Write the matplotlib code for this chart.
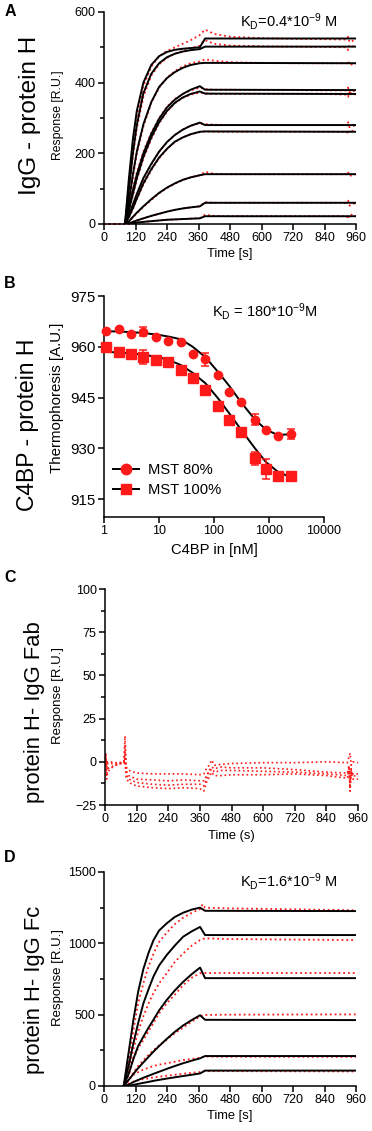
import matplotlib
matplotlib.use("Agg")
import matplotlib.pyplot as plt
from matplotlib.lines import Line2D
from matplotlib.ticker import MultipleLocator, FixedLocator, NullLocator

plt.rcParams['font.family'] = ['Liberation Sans', 'DejaVu Sans']
plt.rcParams['mathtext.fontset'] = 'custom'
plt.rcParams['mathtext.rm'] = 'Liberation Sans'
plt.rcParams['mathtext.it'] = 'Liberation Sans'

RED = '#ff1a1a'

# ---------------- Panel A: IgG - protein H (SPR) ----------------
A_T_FIT = [80, 95, 110, 125, 150, 180, 210, 240, 270, 300, 330, 365, 385, 960]
A_FIT = [
    [0, 130, 240, 320, 400, 450, 475, 487, 493, 496, 498, 500, 525, 525],
    [0, 100, 200, 280, 370, 425, 455, 472, 482, 488, 492, 495, 502, 502],
    [0, 65, 140, 205, 282, 345, 388, 413, 430, 442, 450, 455, 456, 455],
    [0, 45, 95, 140, 200, 255, 298, 330, 352, 368, 380, 390, 380, 379],
    [0, 40, 85, 130, 190, 245, 288, 320, 343, 358, 368, 375, 369, 368],
    [0, 25, 55, 85, 130, 170, 205, 232, 252, 267, 278, 287, 280, 280],
    [0, 20, 45, 72, 115, 155, 188, 213, 233, 245, 254, 261, 262, 261],
    [0, 8, 20, 32, 50, 70, 88, 103, 115, 125, 132, 138, 141, 141],
    [0, 2, 6, 10, 16, 23, 29, 35, 40, 44, 47, 50, 60, 60],
    [0, 0, 2, 4, 6, 8, 10, 12, 13, 14, 15, 16, 22, 22],
]
A_T_DATA = [0, 80, 95, 110, 125, 150, 180, 210, 240, 270, 300, 330, 365, 385, 420, 480,
            600, 720, 840, 925, 930, 935, 960]
A_DATA = [
    [0, 0, 120, 225, 305, 390, 445, 475, 490, 500, 510, 520, 535, 550, 538, 530, 526, 524, 523, 522, 530, 515, 522],
    [0, 0, 95, 190, 270, 360, 420, 452, 470, 482, 490, 497, 505, 520, 510, 505, 503, 502, 501, 500, 492, 506, 500],
    [0, 0, 60, 132, 198, 276, 342, 386, 414, 433, 446, 455, 460, 466, 462, 458, 456, 455, 455, 455, 462, 450, 455],
    [0, 0, 50, 100, 145, 205, 258, 300, 332, 354, 368, 378, 386, 382, 380, 380, 379, 379, 378, 378, 386, 372, 379],
    [0, 0, 35, 80, 125, 185, 240, 285, 318, 342, 357, 366, 372, 370, 368, 368, 368, 368, 368, 366, 360, 372, 366],
    [0, 0, 22, 52, 82, 127, 168, 204, 232, 252, 267, 278, 285, 283, 281, 280, 280, 280, 280, 280, 288, 274, 280],
    [0, 0, 18, 42, 70, 112, 152, 186, 212, 232, 245, 254, 260, 262, 261, 261, 261, 261, 261, 261, 254, 266, 261],
    [0, 0, 7, 18, 30, 48, 68, 87, 102, 114, 124, 132, 138, 148, 142, 141, 141, 141, 141, 141, 148, 136, 141],
    [0, 0, 2, 6, 10, 16, 23, 29, 35, 40, 44, 47, 50, 62, 60, 60, 60, 60, 60, 60, 66, 52, 60],
    [0, 0, 0, 2, 4, 6, 8, 10, 12, 13, 14, 15, 17, 26, 23, 22, 22, 22, 22, 22, 14, 28, 22],
]

# ---------------- Panel B: C4BP - protein H (MST) ----------------
B_CONC = [1.1, 1.9, 3.1, 5.2, 8.7, 14.8, 24.8, 41, 69.7, 118, 190, 314, 555, 871, 1442, 2500]
B_MST80 = [964.8, 965.3, 963.8, 964.5, 962.8, 961.7, 961.4, 957.9, 956.3, 951.7, 946.7, 943.8, 938.5, 935.4, 933.7, 934.1]
B_MST80_ERR = [0.3, 0.3, 0.3, 1.3, 0.3, 0.3, 0.3, 0.3, 2.0, 0.3, 0.3, 0.3, 1.5, 0.3, 0.3, 1.5]
B_MST100 = [959.8, 958.4, 958.0, 956.9, 956.1, 955.6, 953.1, 950.9, 947.2, 942.5, 938.3, 934.9, 927.0, 923.9, 921.8, 921.8]
B_MST100_ERR = [0.3, 0.5, 0.3, 2.0, 0.3, 0.3, 0.3, 0.3, 0.3, 0.3, 0.3, 0.3, 1.8, 3.0, 0.3, 1.2]
B_FIT_X = [1, 2, 5, 10, 15, 25, 41, 70, 118, 190, 314, 555, 871, 1442, 2500]
B_FIT80 = [964.6, 964.5, 964.1, 963.5, 963.0, 962.2, 960.0, 956.9, 952.6, 948.4, 943.5, 938.5, 935.6, 933.9, 934.2]
B_FIT100 = [958.5, 958.3, 957.7, 956.9, 956.1, 954.6, 952.3, 949.2, 944.8, 940.3, 935.4, 930.0, 926.0, 923.1, 921.4]

# ---------------- Panel C: protein H - IgG Fab ----------------
C_T = [0, 3, 6, 10, 20, 40, 60, 72, 76, 80, 90, 120, 180, 240, 300, 360, 375, 385, 395, 405,
       415, 440, 480, 600, 720, 840, 920, 926, 930, 934, 940, 960]
C_DATA = [
    [0, 5, -3, 0, 0, -0.5, -0.5, 0, 15, -3, -5, -6.5, -7, -7, -7, -7.5, -7, -4, -2, 1,
     -2, -1.5, -1, -0.5, -0.5, 0, -0.5, 3, 5, -2, 0, -0.5],
    [-2, 2, -8, -1, -1, -1, -0.5, 0, 10, -5, -8, -10, -10.5, -11, -10.5, -11, -11, -8, -5, -3,
     -4, -3, -3.5, -3.5, -4.5, -6, -6.5, -2, -12, -5, -7, -7],
    [-1, 4, -5, -4, -3, -2, -1, -0.5, 6, -7, -10, -12, -13, -13.5, -13, -13, -14, -10, -6, -4,
     -6, -5, -5, -5.5, -6, -7, -8, -5, -15, -4, -8, -8.5],
    [-3, 0, -10, -6, -4, -2, -1, -1, 3, -9, -12, -14, -15, -15.5, -15, -15.5, -17, -12, -9, -6,
     -8, -8, -7.5, -7.5, -7, -8, -9.5, -4, -17, -6, -10, -10],
]

# ---------------- Panel D: protein H - IgG Fc ----------------
D_T = [75, 95, 112, 130, 150, 170, 188, 210, 239, 270, 302, 335, 366, 385, 960]
D_FIT = [
    [0, 250, 463, 660, 820, 935, 1020, 1090, 1140, 1185, 1215, 1237, 1250, 1228, 1226],
    [0, 150, 300, 440, 579, 680, 766, 845, 918, 985, 1047, 1085, 1115, 1058, 1058],
    [0, 90, 190, 280, 346, 410, 463, 530, 603, 670, 731, 785, 830, 756, 756],
    [0, 45, 85, 125, 165, 205, 240, 280, 330, 380, 425, 463, 496, 464, 462],
    [0, 10, 28, 42, 58, 72, 85, 100, 120, 140, 160, 178, 194, 210, 210],
    [0, 0, 8, 15, 22, 29, 36, 43, 52, 61, 70, 79, 88, 108, 108],
]
D_T_DATA = [75, 95, 112, 130, 150, 170, 188, 210, 239, 270, 302, 335, 366, 376, 385, 480, 960]
D_DATA = [
    [0, 180, 390, 580, 720, 840, 925, 1010, 1075, 1135, 1180, 1215, 1240, 1275, 1250, 1245, 1232],
    [0, 110, 260, 380, 490, 580, 650, 720, 790, 870, 930, 985, 1023, 1030, 1035, 1030, 1023],
    [0, 80, 190, 265, 322, 385, 439, 510, 579, 640, 708, 760, 790, 792, 792, 792, 792],
    [0, 40, 95, 140, 180, 218, 250, 285, 325, 370, 410, 452, 488, 495, 498, 500, 502],
    [0, 45, 77, 97, 115, 128, 140, 150, 159, 170, 182, 190, 198, 203, 206, 205, 204],
    [0, 18, 30, 40, 48, 54, 60, 65, 72, 79, 86, 92, 98, 102, 104, 104, 102],
]

W, H = 372, 1131
fig = plt.figure(figsize=(W / 100, H / 100), dpi=100)


def add_axes(left, right, top, bottom):
    return fig.add_axes([left / W, 1 - bottom / H, (right - left) / W, (bottom - top) / H])


def style(ax, xsize=9, ysize=9):
    for s in ('top', 'right'):
        ax.spines[s].set_visible(False)
    for s in ('left', 'bottom'):
        ax.spines[s].set_linewidth(1.1)
    ax.tick_params(which='major', direction='out', length=4, width=1.1, pad=2)
    ax.tick_params(which='minor', direction='out', length=3, width=1.1)
    ax.tick_params(axis='x', labelsize=xsize)
    ax.tick_params(axis='y', labelsize=ysize)


def kd_text(ax, x, y, s):
    ax.text(x, y, s, transform=ax.transAxes, fontsize=10.5, ha='left', va='center')


def vtext(text, size, xpix, ypix, **kw):
    fig.text(xpix / W, 1 - ypix / H, text, rotation=90, fontsize=size, ha='center', va='center', **kw)


def letter(text, ypix):
    fig.text(10 / W, 1 - ypix / H, text, fontsize=11.5, fontweight='bold', ha='center', va='center')


# ---- A ----
axA = add_axes(104, 356, 12, 224)
style(axA)
for row in A_DATA:
    axA.plot(A_T_DATA, row, color=RED, ls=':', lw=1.3, clip_on=False, zorder=2)
for row in A_FIT:
    axA.plot(A_T_FIT, row, color='black', lw=1.4, zorder=3)
axA.set_xlim(0, 960)
axA.set_ylim(0, 600)
axA.xaxis.set_major_locator(MultipleLocator(120))
axA.yaxis.set_major_locator(MultipleLocator(200))
axA.yaxis.set_minor_locator(MultipleLocator(100))
axA.set_xlabel('Time [s]', fontsize=9.3, labelpad=3)
vtext('Response [R.U.]', 8.8, 58, 115)
kd_text(axA, 0.54, 0.955, r'K$_\mathregular{D}$=0.4*10$^\mathregular{-9}$ M')
vtext('IgG - protein H', 17.5, 30, 115)
letter('A', 12)

# ---- B ----
axB = add_axes(104, 324, 296, 517)
style(axB, xsize=9, ysize=10.8)
axB.set_xscale('log')
axB.plot(B_FIT_X, B_FIT80, color='black', lw=1.4, zorder=2)
axB.plot(B_FIT_X, B_FIT100, color='black', lw=1.4, zorder=2)
axB.errorbar(B_CONC, B_MST80, yerr=B_MST80_ERR, fmt='o', color=RED, ms=6, capsize=3,
             elinewidth=1.1, capthick=1.1, zorder=3, clip_on=False)
axB.errorbar(B_CONC, B_MST100, yerr=B_MST100_ERR, fmt='s', color=RED, ms=6.5, capsize=3,
             elinewidth=1.1, capthick=1.1, zorder=3, clip_on=False)
axB.set_xlim(1, 10000)
axB.set_ylim(909.7, 975)
axB.xaxis.set_major_locator(FixedLocator([1, 10, 100, 1000, 10000]))
axB.xaxis.set_minor_locator(NullLocator())
axB.set_xticklabels(['1', '10', '100', '1000', '10000'])
axB.yaxis.set_major_locator(FixedLocator([915, 930, 945, 960, 975]))
axB.set_xlabel('C4BP in [nM]', fontsize=10.6, labelpad=4)
vtext('Thermophoresis [A.U.]', 10.8, 57, 398)
kd_text(axB, 0.49, 0.93, r'K$_\mathregular{D}$ = 180*10$^\mathregular{-9}$M')
h80 = Line2D([], [], color='black', lw=1.4, marker='o', mfc=RED, mec=RED, ms=7.5)
h100 = Line2D([], [], color='black', lw=1.4, marker='s', mfc=RED, mec=RED, ms=7.5)
axB.legend([h80, h100], ['MST 80%', 'MST 100%'], loc='lower left', bbox_to_anchor=(-0.02, 0.03),
           frameon=False, fontsize=10.6, handlelength=1.8, handletextpad=0.6, labelspacing=0.4)
vtext('C4BP - protein H', 16.5, 28, 425)
letter('B', 284)

# ---- C ----
axC = add_axes(105, 358, 589, 805)
style(axC)
for row in C_DATA:
    axC.plot(C_T, row, color=RED, ls=':', lw=1.2, zorder=2)
axC.set_xlim(0, 960)
axC.set_ylim(-25, 100)
axC.xaxis.set_major_locator(MultipleLocator(120))
axC.yaxis.set_major_locator(MultipleLocator(25))
axC.yaxis.set_minor_locator(MultipleLocator(12.5))
axC.set_xlabel('Time (s)', fontsize=9.3, labelpad=3)
vtext('Response [R.U.]', 9.5, 58, 696)
vtext('protein H- IgG Fab', 15.8, 35, 712)
letter('C', 577)

# ---- D ----
axD = add_axes(104, 356, 872, 1086)
style(axD)
for row in D_DATA:
    axD.plot(D_T_DATA, row, color=RED, ls=':', lw=1.3, zorder=2)
for row in D_FIT:
    axD.plot(D_T, row, color='black', lw=1.4, zorder=3)
axD.set_xlim(0, 960)
axD.set_ylim(0, 1500)
axD.xaxis.set_major_locator(MultipleLocator(120))
axD.yaxis.set_major_locator(MultipleLocator(500))
axD.yaxis.set_minor_locator(MultipleLocator(250))
axD.set_xlabel('Time [s]', fontsize=9.3, labelpad=3)
vtext('Response [R.U.]', 9.5, 58, 978)
kd_text(axD, 0.54, 0.955, r'K$_\mathregular{D}$=1.6*10$^\mathregular{-9}$ M')
vtext('protein H- IgG Fc', 15.8, 35, 990)
letter('D', 857)

fig.savefig('out.png', dpi=100)
